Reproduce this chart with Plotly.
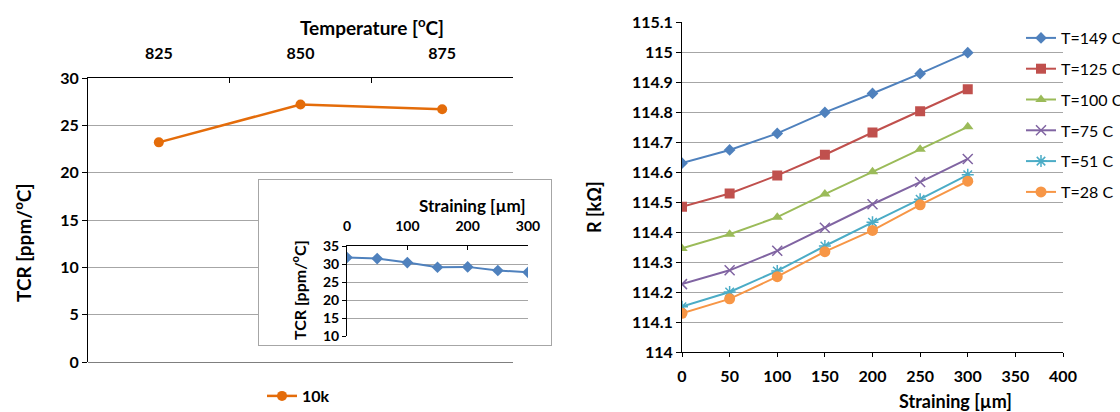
import plotly.graph_objects as go

# ---------------- data ----------------
temp_cats = ["825", "850", "875"]
tcr_10k = [23.2, 27.2, 26.7]

inset_strain = [0, 50, 100, 150, 200, 250, 300]
inset_tcr = [31.8, 31.5, 30.4, 29.1, 29.2, 28.2, 27.7]

strain = [0, 50, 100, 150, 200, 250, 300]
r_149 = [114.630, 114.674, 114.729, 114.799, 114.862, 114.928, 114.998]
r_125 = [114.485, 114.529, 114.589, 114.658, 114.732, 114.803, 114.876]
r_100 = [114.346, 114.393, 114.450, 114.527, 114.601, 114.676, 114.751]
r_75 = [114.227, 114.273, 114.338, 114.415, 114.493, 114.567, 114.644]
r_51 = [114.152, 114.201, 114.271, 114.354, 114.433, 114.510, 114.591]
r_28 = [114.130, 114.178, 114.252, 114.335, 114.406, 114.491, 114.570]

series_names = ["T=149 C", "T=125 C", "T=100 C", "T=75 C", "T=51 C", "T=28 C"]
series_vals = [r_149, r_125, r_100, r_75, r_51, r_28]
series_colors = ["#4F81BD", "#C0504D", "#9BBB59", "#8064A2", "#4BACC6", "#F79646"]
series_symbols = ["diamond", "square", "triangle-up", "x-thin", "asterisk", "circle"]
series_sizes = [9, 10, 10, 10, 10, 11]

W, H = 1120, 412
FONT = "Lato"
GRID = "#A6A6A6"


def px(x):
    return x / W


def py(y):
    return (H - y) / H


fig = go.Figure()

# left main chart
fig.add_trace(go.Scatter(
    x=temp_cats, y=tcr_10k, name="10k", mode="lines+markers",
    line=dict(color="#E46C0A", width=2.5),
    marker=dict(symbol="circle", size=10, color="#E46C0A"),
    xaxis="x", yaxis="y", legend="legend"))

# inset frame (empty subplot used as white box)
fig.add_trace(go.Scatter(x=[], y=[], xaxis="x2", yaxis="y2", showlegend=False))

# inset
fig.add_trace(go.Scatter(
    x=inset_strain, y=inset_tcr, mode="lines+markers", showlegend=False,
    line=dict(color="#4F81BD", width=2),
    marker=dict(symbol="diamond", size=9, color="#4F81BD"),
    xaxis="x3", yaxis="y3"))

# right chart
for name, vals, col, sym, sz in zip(series_names, series_vals, series_colors,
                                    series_symbols, series_sizes):
    mk = dict(symbol=sym, size=sz, color=col)
    if sym in ("x-thin", "asterisk"):
        mk["line"] = dict(color=col, width=1.5)
    fig.add_trace(go.Scatter(
        x=strain, y=vals, name=name, mode="lines+markers",
        line=dict(color=col, width=2), marker=mk,
        xaxis="x4", yaxis="y4", legend="legend2", legendgroup=name))

tickfont = dict(family=FONT, size=16, color="#000000", weight="bold")
tickfont_s = dict(family=FONT, size=14, color="#000000", weight="bold")


def title(text, x, y, size, angle=0):
    return dict(text=text, x=px(x), y=py(y), xref="paper", yref="paper",
                xanchor="center", yanchor="middle", showarrow=False,
                textangle=angle, font=dict(family=FONT, size=size, color="#000"))


fig.update_layout(
    width=W, height=H,
    margin=dict(l=0, r=0, t=0, b=0, autoexpand=False),
    paper_bgcolor="white", plot_bgcolor="white",
    font=dict(family=FONT, color="#000000"),
    xaxis=dict(domain=[px(88), px(513)], anchor="y", side="top", type="category",
               range=[-0.5, 2.5], tickson="boundaries", ticks="inside", ticklen=5,
               tickcolor="#000", showline=True, linecolor="#000", linewidth=1,
               showgrid=False, tickfont=tickfont, ticklabelstandoff=12,
               automargin=False),
    yaxis=dict(domain=[py(362), py(78)], anchor="x", range=[0, 30], dtick=5,
               showgrid=True, gridcolor=GRID, gridwidth=1, zeroline=True,
               zerolinecolor="#7F7F7F", zerolinewidth=1,
               showline=True, linecolor="#000", ticks="outside", ticklen=5,
               tickcolor="#000", tickfont=tickfont, automargin=False),
    xaxis2=dict(domain=[px(259), px(551)], anchor="y2", showline=True, mirror=True,
                linecolor="#A6A6A6", linewidth=1, showgrid=False, zeroline=False,
                showticklabels=False, ticks="", range=[0, 1], automargin=False),
    yaxis2=dict(domain=[py(345), py(180)], anchor="x2", showline=True, mirror=True,
                linecolor="#A6A6A6", linewidth=1, showgrid=False, zeroline=False,
                showticklabels=False, ticks="", range=[0, 1], automargin=False),
    xaxis3=dict(domain=[px(347), px(528)], anchor="y3", side="top", range=[0, 300],
                dtick=100, ticks="inside", ticklen=4, tickcolor="#000",
                showline=True, linecolor="#000", showgrid=False, zeroline=False,
                tickfont=tickfont_s, ticklabelstandoff=8, automargin=False),
    yaxis3=dict(domain=[py(336), py(246)], anchor="x3", range=[10, 35], dtick=5,
                showgrid=True, gridcolor=GRID, zeroline=False, showline=True,
                linecolor="#000", ticks="outside", ticklen=4, tickcolor="#000",
                tickfont=tickfont_s, automargin=False),
    xaxis4=dict(domain=[px(682), px(1063)], anchor="y4", range=[0, 400], dtick=50,
                ticks="outside", ticklen=4, tickcolor="#000", showline=True,
                linecolor="#000", showgrid=False, zeroline=False, tickfont=tickfont,
                ticklabelstandoff=5, automargin=False),
    yaxis4=dict(domain=[py(352.3), py(22)], anchor="x4", range=[114, 115.1], dtick=0.1,
                showgrid=True, gridcolor=GRID, zeroline=False, showline=True,
                linecolor="#000", ticks="outside", ticklen=5, tickcolor="#000",
                tickfont=tickfont, automargin=False),
    legend=dict(orientation="h", x=px(262), y=py(379), xanchor="left", yanchor="top",
                font=dict(family=FONT, size=16, color="#000", weight="bold"),
                bgcolor="rgba(0,0,0,0)", itemwidth=30),
    legend2=dict(orientation="v", x=px(1021), y=py(21), xanchor="left", yanchor="top",
                 font=dict(family=FONT, size=16, color="#000"),
                 bgcolor="rgba(0,0,0,0)", itemwidth=30, traceorder="grouped",
                 tracegroupgap=7),
    annotations=[
        title("<b>Temperature [<sup>o</sup>C]</b>", 372, 27, 19),
        title("<b>TCR [ppm/<sup>o</sup>C]</b>", 22, 243, 19, -90),
        title("<b>Straining [µm]</b>", 472, 205, 17),
        title("<b>TCR [ppm/<sup>o</sup>C]</b>", 298, 290, 16, -90),
        title("<b>R [kΩ]</b>", 594, 207, 18, -90),
        title("<b>Straining [µm]</b>", 955, 401, 18),
    ],
)

fig.write_html("out.html", config={"displayModeBar": False},
               post_script="document.body.style.margin='0';document.body.style.overflow='hidden';")
